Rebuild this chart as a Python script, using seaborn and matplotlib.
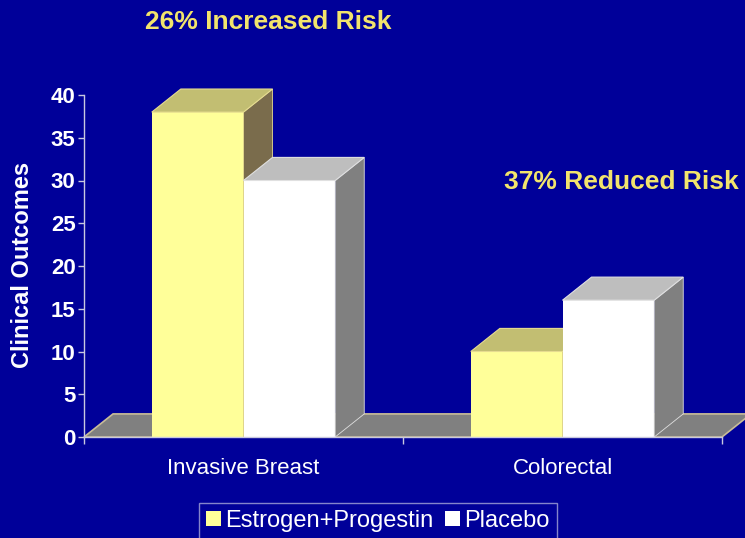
import numpy as np
import pandas as pd
import matplotlib
matplotlib.use("Agg")
import matplotlib.pyplot as plt
from matplotlib.patches import Polygon, Patch
import seaborn as sns

# values (cases per 10,000 person-years)
outcomes = ["Invasive Breast", "Colorectal"]
groups = ["Estrogen+Progestin", "Placebo"]
ep_rates = [38, 10]
placebo_rates = [30, 16]
y_ticks = [0, 5, 10, 15, 20, 25, 30, 35, 40]
notes = ["26% Increased Risk", "37% Reduced Risk"]

BG = "#000099"
NOTE_COLOR = "#F2E46C"
FRONT = {"Estrogen+Progestin": "#FFFF99", "Placebo": "#FFFFFF"}
TOP = {"Estrogen+Progestin": "#C2BE72", "Placebo": "#BEBEBE"}
SIDE = {"Estrogen+Progestin": "#7A6C4C", "Placebo": "#808080"}
EDGE = {"Estrogen+Progestin": "#E6DC90", "Placebo": "#E0E0E0"}

# fake 3D depth, in data units
DX, DY = 0.091, 2.7

df = pd.DataFrame({
    "outcome": outcomes * 2,
    "group": [groups[0]] * 2 + [groups[1]] * 2,
    "rate": ep_rates + placebo_rates,
})

sns.set_style("white", {"axes.facecolor": BG, "figure.facecolor": BG})
plt.rcParams["font.family"] = ["Liberation Sans", "DejaVu Sans"]

fig = plt.figure(figsize=(7.45, 5.38), dpi=100)
ax = fig.add_axes([84 / 745, 101 / 538, 638 / 745, 342 / 538])

sns.barplot(data=df, x="outcome", y="rate", hue="group", order=outcomes,
            hue_order=groups, palette=FRONT, width=0.575, saturation=1,
            linewidth=0, errorbar=None, legend=False, ax=ax)

ax.set_xlim(-0.5, 1.5)
ax.set_ylim(0, 40)

# collect bars before adding anything else
bars = []
for cont, g in zip(ax.containers, groups):
    for bar in cont:
        bars.append((bar, g))
bars.sort(key=lambda t: t[0].get_x())

# floor slab
floor = Polygon([(-0.5, 0), (1.5, 0), (1.5 + DX, DY), (-0.5 + DX, DY)],
                closed=True, facecolor="#808080", edgecolor="#C8BC98",
                lw=1.2, zorder=1, clip_on=False)
ax.add_patch(floor)

# paint bars left to right so each front face hides the previous side
for k, (bar, g) in enumerate(bars):
    z = 2 + k
    x0, w, h = bar.get_x(), bar.get_width(), bar.get_height()
    bar.set_zorder(z)
    bar.set_clip_on(False)
    top = Polygon([(x0, h), (x0 + w, h), (x0 + w + DX, h + DY), (x0 + DX, h + DY)],
                  closed=True, facecolor=TOP[g], edgecolor=EDGE[g], lw=0.8,
                  zorder=z, clip_on=False)
    side = Polygon([(x0 + w, 0), (x0 + w + DX, DY), (x0 + w + DX, h + DY), (x0 + w, h)],
                   closed=True, facecolor=SIDE[g], edgecolor=EDGE[g], lw=0.6,
                   zorder=z, clip_on=False)
    ax.add_patch(side)
    ax.add_patch(top)

# axes styling
for s in ["top", "right"]:
    ax.spines[s].set_visible(False)
for s in ["left", "bottom"]:
    ax.spines[s].set_color("#C8C8E0")
    ax.spines[s].set_linewidth(1)
    ax.spines[s].set_zorder(10)

ax.set_yticks(y_ticks)
ax.tick_params(axis="y", left=True, length=4, width=1, color="#C8C8E0",
               labelcolor="white", labelsize=16, pad=2)
for lbl in ax.get_yticklabels():
    lbl.set_fontweight("bold")

ax.set_xticks([0, 1])
ax.set_xticklabels(outcomes)
ax.set_xticks([-0.5, 0.5, 1.5], minor=True)
ax.tick_params(axis="x", which="major", length=0, labelcolor="white",
               labelsize=16, pad=15)
ax.tick_params(axis="x", which="minor", bottom=True, length=5, width=1,
               color="#C8C8E0")
ax.set_xlabel("")
ax.set_ylabel("")

fig.text(23 / 745, 1 - 265 / 538, "Clinical Outcomes", rotation=90,
         ha="center", va="center", color="white", fontsize=17,
         fontweight="bold")

fig.text(268 / 745, 1 - 22 / 538, notes[0], ha="center", va="center",
         color=NOTE_COLOR, fontsize=19, fontweight="bold")
fig.text(621 / 745, 1 - 182 / 538, notes[1], ha="center", va="center",
         color=NOTE_COLOR, fontsize=19, fontweight="bold")

handles = [Patch(facecolor=FRONT[g], edgecolor="none") for g in groups]
leg = fig.legend(handles, groups, loc="upper center",
                 bbox_to_anchor=(378 / 745, 1 - 503 / 538), ncol=2,
                 fontsize=17, handlelength=0.6, handleheight=0.6,
                 handletextpad=0.2, columnspacing=0.5, borderpad=0.3,
                 fancybox=False, borderaxespad=0, frameon=True)
leg.get_frame().set_facecolor(BG)
leg.get_frame().set_edgecolor("#A8A8D8")
leg.get_frame().set_linewidth(1)
for t in leg.get_texts():
    t.set_color("white")

fig.savefig("out.png", dpi=100, facecolor=BG)
